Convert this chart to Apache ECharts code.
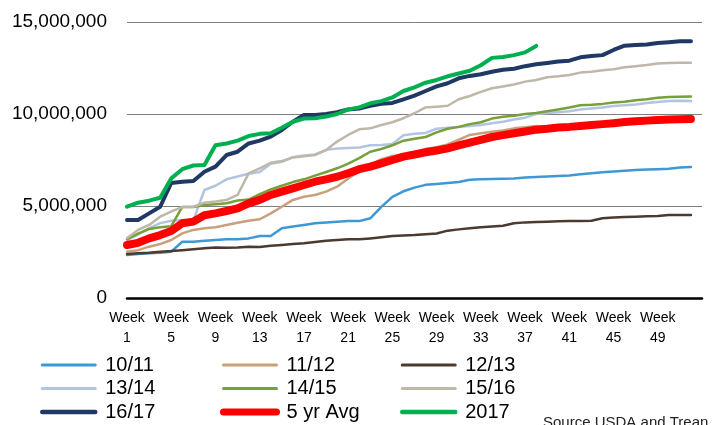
<!DOCTYPE html>
<html>
<head>
<meta charset="utf-8">
<script src="https://cdn.jsdelivr.net/npm/echarts@6/dist/echarts.min.js"></script>
<style>
  html, body { margin: 0; padding: 0; background: #fff; }
  #chart { width: 727px; height: 425px; }
</style>
</head>
<body>
<div id="chart"></div>
<script>
// weeks on the plot (53 slots, data fills 52)
const weeks = Array.from({ length: 53 }, (_, i) => 'Week ' + (i + 1))
// every 4th week gets a label, up to week 49
const labelEvery = 4
const lastLabelled = 49
const yTicks = [0, 5, 10, 15] // millions

// cumulative values, millions
const s1011 = [2.34, 2.39, 2.43, 2.46, 2.52, 3.06, 3.06, 3.11, 3.15, 3.19, 3.19, 3.24, 3.37, 3.37, 3.79, 3.88, 3.97, 4.06, 4.1, 4.15, 4.18, 4.18, 4.33, 4.95, 5.5, 5.8, 6.0, 6.15, 6.2, 6.25, 6.3, 6.43, 6.46, 6.47, 6.48, 6.5, 6.55, 6.58, 6.6, 6.63, 6.66, 6.72, 6.78, 6.83, 6.87, 6.92, 6.95, 6.98, 7.0, 7.03, 7.09, 7.12]
const s1112 = [2.52, 2.6, 2.79, 2.93, 3.15, 3.51, 3.7, 3.79, 3.84, 3.97, 4.09, 4.2, 4.28, 4.6, 4.96, 5.33, 5.5, 5.6, 5.78, 6.05, 6.5, 6.86, 7.23, 7.55, 7.72, 7.8, 7.86, 8.1, 8.2, 8.35, 8.6, 8.86, 8.95, 9.04, 9.1, 9.22, 9.28, 9.35, 9.3, 9.32, 9.35, 9.4, 9.45, 9.5, 9.53, 9.58, 9.62, 9.65, 9.68, 9.7, 9.72, 9.73]
const s1213 = [2.39, 2.43, 2.46, 2.52, 2.55, 2.6, 2.65, 2.7, 2.75, 2.73, 2.75, 2.79, 2.77, 2.84, 2.88, 2.93, 2.97, 3.04, 3.11, 3.15, 3.19, 3.19, 3.24, 3.3, 3.37, 3.4, 3.42, 3.46, 3.51, 3.66, 3.73, 3.79, 3.84, 3.88, 3.93, 4.06, 4.11, 4.13, 4.15, 4.17, 4.18, 4.19, 4.2, 4.33, 4.38, 4.4, 4.42, 4.44, 4.46, 4.51, 4.51, 4.51]
const s1314 = [3.15, 3.45, 3.8, 4.07, 4.2, 4.24, 4.22, 5.87, 6.1, 6.45, 6.6, 6.75, 6.85, 7.3, 7.4, 7.65, 7.75, 7.8, 8.05, 8.12, 8.15, 8.18, 8.3, 8.32, 8.37, 8.85, 8.93, 8.97, 9.2, 9.25, 9.3, 9.35, 9.4, 9.5, 9.58, 9.7, 9.8, 10.0, 10.05, 10.1, 10.15, 10.25, 10.3, 10.35, 10.43, 10.47, 10.52, 10.6, 10.65, 10.7, 10.72, 10.7]
const s1415 = [3.2, 3.5, 3.75, 3.85, 3.9, 4.95, 4.95, 5.05, 5.1, 5.15, 5.3, 5.35, 5.65, 5.9, 6.1, 6.3, 6.45, 6.65, 6.85, 7.05, 7.3, 7.6, 7.95, 8.1, 8.3, 8.55, 8.65, 8.75, 9.0, 9.2, 9.3, 9.45, 9.55, 9.75, 9.85, 9.9, 10.0, 10.05, 10.15, 10.25, 10.35, 10.48, 10.5, 10.55, 10.62, 10.67, 10.75, 10.8, 10.88, 10.92, 10.94, 10.95]
const s1516 = [3.26, 3.7, 3.97, 4.42, 4.7, 4.94, 4.96, 5.18, 5.24, 5.33, 5.6, 6.77, 7.04, 7.35, 7.44, 7.64, 7.7, 7.77, 8.04, 8.5, 8.86, 9.17, 9.22, 9.4, 9.55, 9.77, 10.04, 10.36, 10.4, 10.45, 10.8, 10.98, 11.2, 11.4, 11.5, 11.6, 11.76, 11.85, 12.0, 12.05, 12.12, 12.25, 12.3, 12.38, 12.43, 12.54, 12.6, 12.66, 12.75, 12.77, 12.79, 12.79]
const s1617 = [4.24, 4.24, 4.6, 4.96, 6.25, 6.32, 6.36, 6.86, 7.14, 7.77, 7.95, 8.4, 8.55, 8.77, 9.13, 9.58, 9.95, 9.95, 10.0, 10.1, 10.25, 10.3, 10.45, 10.55, 10.6, 10.8, 11.0, 11.25, 11.5, 11.67, 11.94, 12.07, 12.16, 12.3, 12.4, 12.46, 12.6, 12.7, 12.77, 12.85, 12.9, 13.08, 13.15, 13.2, 13.48, 13.71, 13.75, 13.78, 13.86, 13.9, 13.95, 13.95]
const avg5 = [2.88, 3.0, 3.24, 3.42, 3.64, 4.06, 4.15, 4.5, 4.6, 4.73, 4.87, 5.14, 5.33, 5.6, 5.78, 5.96, 6.14, 6.32, 6.45, 6.59, 6.78, 7.0, 7.14, 7.32, 7.5, 7.68, 7.8, 7.92, 8.02, 8.13, 8.3, 8.45, 8.6, 8.75, 8.85, 8.95, 9.05, 9.15, 9.2, 9.27, 9.3, 9.35, 9.4, 9.45, 9.5, 9.56, 9.6, 9.64, 9.67, 9.7, 9.72, 9.73]
const s2017 = [4.96, 5.18, 5.29, 5.45, 6.5, 7.0, 7.2, 7.23, 8.3, 8.4, 8.55, 8.8, 8.92, 8.95, 9.25, 9.58, 9.75, 9.77, 9.86, 10.0, 10.25, 10.36, 10.58, 10.7, 10.9, 11.25, 11.45, 11.7, 11.85, 12.05, 12.2, 12.35, 12.65, 13.05, 13.1, 13.2, 13.35, 13.7]

const seriesDefs = [
  { name: '10/11', data: s1011, color: '#3D98D3', width: 2.5 },
  { name: '11/12', data: s1112, color: '#C9A07C', width: 2.5 },
  { name: '12/13', data: s1213, color: '#4A3A2F', width: 2.5 },
  { name: '13/14', data: s1314, color: '#B3C4E2', width: 2.5 },
  { name: '14/15', data: s1415, color: '#76A03A', width: 2.5 },
  { name: '15/16', data: s1516, color: '#BFB7A8', width: 2.5 },
  { name: '16/17', data: s1617, color: '#1F3864', width: 4 },
  { name: '5 yr Avg', data: avg5, color: '#FF0000', width: 8 },
  { name: '2017', data: s2017, color: '#00B050', width: 4 }
]

const font = 'Liberation Sans'

// one legend per column so the columns line up like the original
const legendCol = (names, left) => ({
  orient: 'vertical',
  left: left,
  top: 355,
  padding: 0,
  itemGap: 3.5,
  itemWidth: 53,
  itemHeight: 20,
  textStyle: { fontFamily: font, fontSize: 20, lineHeight: 20, color: '#000', padding: [0, 0, 0, 5] },
  data: names.map(n => {
    const d = seriesDefs.find(s => s.name === n)
    return {
      name: n,
      lineStyle: { width: d.width > 5 ? 7 : d.width + 0.5, color: d.color, cap: 'round' },
      itemStyle: { color: 'rgba(0,0,0,0)', borderWidth: 0 }
    }
  })
})

const chart = echarts.init(document.getElementById('chart'))
chart.setOption({
  animation: false,
  backgroundColor: '#fff',
  grid: { left: 127, right: 25, top: 22, bottom: 127 },
  legend: [
    legendCol(['10/11', '13/14', '16/17'], 40),
    legendCol(['11/12', '14/15', '5 yr Avg'], 220),
    legendCol(['12/13', '15/16', '2017'], 400)
  ],
  xAxis: {
    type: 'category',
    data: weeks,
    boundaryGap: false,
    axisLine: { lineStyle: { color: '#000', width: 2.5 } },
    axisTick: { show: false },
    axisLabel: {
      interval: i => i % labelEvery === 0 && i < lastLabelled,
      hideOverlap: false,
      margin: 10,
      fontFamily: font,
      fontSize: 14,
      lineHeight: 20,
      color: '#000',
      formatter: v => v.replace(' ', '\n')
    },
    splitLine: { show: false }
  },
  yAxis: {
    type: 'value',
    min: yTicks[0],
    max: yTicks[yTicks.length - 1],
    interval: 5,
    axisLine: { show: false },
    axisTick: { show: false },
    axisLabel: {
      margin: 20,
      fontFamily: font,
      fontSize: 19,
      color: '#000',
      formatter: v => (v * 1000000).toLocaleString('en-US')
    },
    splitLine: { lineStyle: { color: '#7f7f7f', width: 1 } }
  },
  series: seriesDefs.map((s, i) => ({
    name: s.name,
    type: 'line',
    data: s.data,
    symbol: 'none',
    z: 2 + i,
    lineStyle: { color: s.color, width: s.width, join: 'round', cap: 'round' },
    itemStyle: { color: s.color }
  })),
  graphic: [
    {
      type: 'text',
      left: 543,
      top: 415,
      style: { text: 'Source USDA and Trean', font: '15px "Liberation Sans"', fill: '#222' }
    }
  ]
})
</script>
</body>
</html>
